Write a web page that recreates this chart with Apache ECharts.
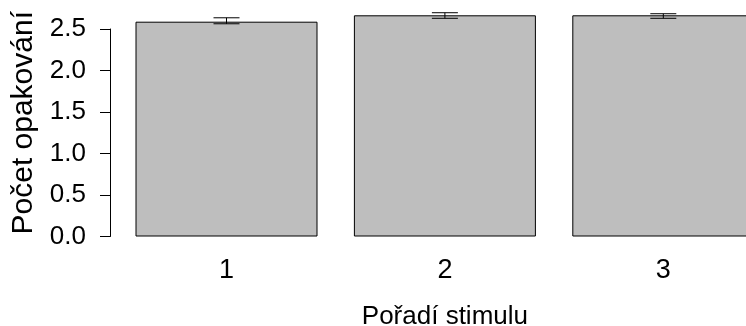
<!DOCTYPE html>
<html>
<head>
<meta charset="utf-8">
<script src="https://cdn.jsdelivr.net/npm/echarts@6/dist/echarts.min.js"></script>
<style>
  html, body { margin: 0; padding: 0; background: #fff; }
  #chart { width: 746px; height: 326px; }
</style>
</head>
<body>
<div id="chart"></div>
<script>
// Mean repetition count by stimulus order, with error bars
var categories = ['1', '2', '3'];
var means = [2.588, 2.665, 2.665];
var lowerBounds = [2.563, 2.629, 2.629];
var upperBounds = [2.635, 2.696, 2.684];
var yTicks = [0, 0.5, 1.0, 1.5, 2.0, 2.5];

var FONT = 'Liberation Sans, Arial, sans-serif';

var errorData = categories.map(function (c, i) {
  return [i, lowerBounds[i], upperBounds[i]];
});

var chart = echarts.init(document.getElementById('chart'));
chart.setOption({
  animation: false,
  backgroundColor: '#ffffff',
  grid: {
    left: 117.3, width: 655.2, top: 29, bottom: 89.5,
    containLabel: false,
    outerBoundsMode: 'none'
  },
  xAxis: {
    type: 'category',
    data: categories,
    axisLine: { show: false },
    axisTick: { show: false },
    splitLine: { show: false },
    axisLabel: { color: '#000', fontSize: 27, fontFamily: FONT, margin: 21 },
    name: 'Pořadí stimulu',
    nameLocation: 'middle',
    nameGap: 67,
    nameTextStyle: { color: '#000', fontSize: 26, fontFamily: FONT }
  },
  yAxis: {
    type: 'value',
    min: yTicks[0],
    max: yTicks[yTicks.length - 1],
    interval: 0.5,
    offset: 7.3,
    axisLine: { show: true, lineStyle: { color: '#000', width: 1 } },
    axisTick: { show: true, length: 10, lineStyle: { color: '#000', width: 1 } },
    splitLine: { show: false },
    axisLabel: {
      color: '#000', fontSize: 26, fontFamily: FONT, margin: 24,
      formatter: function (v) { return v.toFixed(1); }
    },
    name: 'Počet opakování',
    nameLocation: 'middle',
    nameGap: 66,
    nameTextStyle: { color: '#000', fontSize: 30, fontFamily: FONT, padding: [0, 0, 0, 20] }
  },
  series: [
    {
      type: 'bar',
      data: means,
      barWidth: 182,
      clip: false,
      itemStyle: { color: '#bebebe', borderColor: '#000', borderWidth: 1 }
    },
    {
      type: 'custom',
      clip: false,
      data: errorData,
      z: 10,
      renderItem: function (params, api) {
        var x = api.value(0);
        var lo = api.coord([x, api.value(1)]);
        var hi = api.coord([x, api.value(2)]);
        var half = 13;
        var style = { stroke: '#000', lineWidth: 1 };
        return {
          type: 'group',
          children: [
            { type: 'line', shape: { x1: lo[0], y1: lo[1], x2: hi[0], y2: hi[1] }, style: style },
            { type: 'line', shape: { x1: lo[0] - half, y1: lo[1], x2: lo[0] + half, y2: lo[1] }, style: style },
            { type: 'line', shape: { x1: hi[0] - half, y1: hi[1], x2: hi[0] + half, y2: hi[1] }, style: style }
          ]
        };
      }
    }
  ]
});
</script>
</body>
</html>
